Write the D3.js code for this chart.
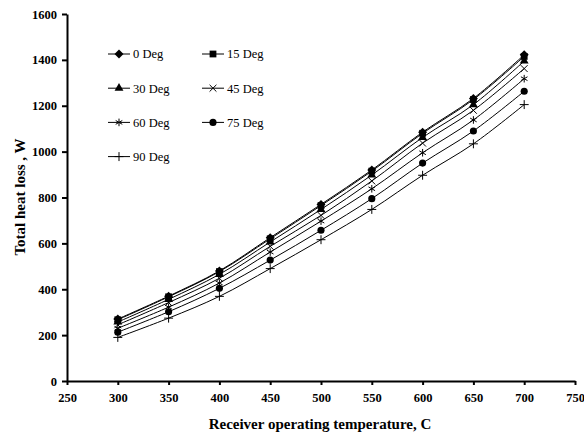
<!DOCTYPE html>
<html lang="en">
<head>
<meta charset="utf-8">
<title>Total heat loss</title>
<script src="https://cdn.jsdelivr.net/npm/d3@7"></script>
<style>
  body { margin: 0; background: #fff; }
  #chart text { font-family: "Liberation Serif", "Times New Roman", serif; fill: #000; }
  .axis-title { font-weight: bold; font-size: 15px; }
  .legend text { font-size: 12.5px; }
</style>
</head>
<body>
<div id="chart"></div>
<script>
// receiver temperature (C)
var temps = [300, 350, 400, 450, 500, 550, 600, 650, 700];
var angles = ["0 Deg", "15 Deg", "30 Deg", "45 Deg", "60 Deg", "75 Deg", "90 Deg"];
// total heat loss (W), one array per tilt angle
var deg0  = [270, 370, 480, 625, 770, 920, 1085, 1232, 1422];
var deg15 = [267, 367, 477, 620, 765, 915, 1080, 1227, 1415];
var deg30 = [257, 356, 465, 606, 748, 898, 1062, 1205, 1395];
var deg45 = [245, 342, 448, 587, 722, 872, 1037, 1180, 1362];
var deg60 = [230, 322, 427, 562, 697, 838, 995, 1138, 1318];
var deg75 = [213, 302, 404, 527, 657, 795, 950, 1090, 1263];
var deg90 = [190, 274, 369, 490, 616, 748, 897, 1034, 1205];
var xTicks = [250, 300, 350, 400, 450, 500, 550, 600, 650, 700, 750];
var yTicks = [0, 200, 400, 600, 800, 1000, 1200, 1400, 1600];

// excel style diamond: as wide as it is tall
var squareDiamond = {
  draw: function(ctx, size) {
    var r = Math.sqrt(size / 2);
    ctx.moveTo(0, -r); ctx.lineTo(r, 0); ctx.lineTo(0, r); ctx.lineTo(-r, 0); ctx.closePath();
  }
};

var series = [deg0, deg15, deg30, deg45, deg60, deg75, deg90];
var shapes = [squareDiamond, d3.symbolSquare, d3.symbolTriangle, d3.symbolX,
              d3.symbolAsterisk, d3.symbolCircle, d3.symbolPlus];
var sizes  = [40, 46, 34, 32, 40, 40, 28];
var filled = [true, true, true, false, false, true, false];

var W = 584, H = 436;
var margin = {top: 14, right: 9, bottom: 55, left: 67};

var svg = d3.select("#chart").append("svg")
  .attr("width", W).attr("height", H);

var x = d3.scaleLinear().domain([250, 750]).range([margin.left, W - margin.right]);
var y = d3.scaleLinear().domain([0, 1600]).range([H - margin.bottom, margin.top]);

// axes
var gx = svg.append("g")
  .attr("transform", "translate(0," + y(0) + ")")
  .call(d3.axisBottom(x).tickValues(xTicks).tickFormat(d3.format("d"))
    .tickSize(4).tickPadding(8).tickSizeOuter(0));
var gy = svg.append("g")
  .attr("transform", "translate(" + x(250) + ",0)")
  .call(d3.axisLeft(y).tickValues(yTicks).tickFormat(d3.format("d"))
    .tickSize(5).tickPadding(5).tickSizeOuter(0));
[gx, gy].forEach(function(g) {
  g.attr("font-family", "Liberation Serif, serif").attr("font-size", 12.5).attr("font-weight", "bold");
  g.select(".domain").attr("stroke", "#000").attr("stroke-width", 2);
  g.selectAll(".tick line").attr("stroke", "#000").attr("stroke-width", 2);
});

svg.append("text").attr("class", "axis-title")
  .attr("x", 320).attr("y", 429).attr("text-anchor", "middle")
  .text("Receiver operating temperature, C");
svg.append("text").attr("class", "axis-title")
  .attr("transform", "translate(25," + 197 + ") rotate(-90)")
  .attr("text-anchor", "middle")
  .text("Total heat loss , W");

// lines and markers
var line = d3.line()
  .x(function(d, i) { return x(temps[i]); })
  .y(function(d) { return y(d); })
  .curve(d3.curveCatmullRom);

function marker(sel, k) {
  sel.attr("d", d3.symbol().type(shapes[k]).size(sizes[k]))
    .attr("fill", filled[k] ? "#000" : "none")
    .attr("stroke", "#000")
    .attr("stroke-width", filled[k] ? 0 : 1);
}

series.forEach(function(vals, k) {
  svg.append("path").datum(vals)
    .attr("fill", "none").attr("stroke", "#000").attr("stroke-width", 1)
    .attr("d", line);
});
series.forEach(function(vals, k) {
  svg.selectAll(null).data(vals).enter().append("path")
    .attr("transform", function(d, i) { return "translate(" + x(temps[i]) + "," + y(d) + ")"; })
    .call(marker, k);
});

// legend
var lg = svg.append("g").attr("class", "legend");
angles.forEach(function(name, k) {
  var lx = 108 + (k % 2) * 94, ly = 54 + Math.floor(k / 2) * 34.2;
  var item = lg.append("g").attr("transform", "translate(" + lx + "," + ly + ")");
  item.append("line").attr("x1", 0).attr("x2", 22).attr("stroke", "#000").attr("stroke-width", 1);
  item.append("path").attr("transform", "translate(11,0)").call(marker, k);
  item.append("text").attr("x", 25).attr("dy", "0.35em").text(name);
});
</script>
</body>
</html>
